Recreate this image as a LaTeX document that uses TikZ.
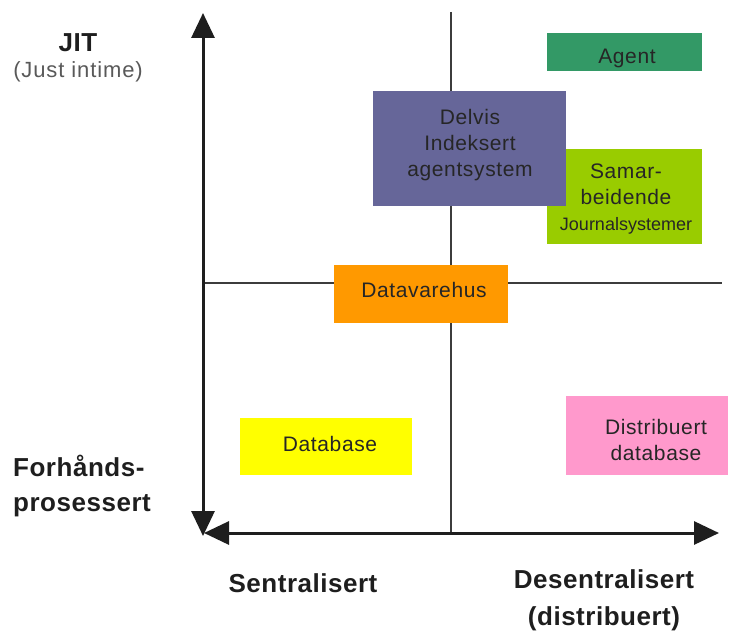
\documentclass[tikz,border=0pt]{standalone}
\usepackage{fontspec}
\setmainfont{Liberation Sans}
\usetikzlibrary{arrows.meta}

\definecolor{agentgreen}{HTML}{339966}
\definecolor{delvisblue}{HTML}{666699}
\definecolor{limegreen}{HTML}{99CC00}
\definecolor{dworange}{HTML}{FF9900}
\definecolor{dbyellow}{HTML}{FFFF00}
\definecolor{dbpink}{HTML}{FF99CC}
\definecolor{axisgray}{HTML}{1E1E1E}
\definecolor{gridgray}{HTML}{3C3C3C}
\definecolor{boxtext}{HTML}{262626}

\tikzset{
  box/.style={rectangle, draw=none, inner sep=0pt},
  boxlabel/.style={inner sep=0pt, align=center, text=boxtext,
    font=\addfontfeature{LetterSpace=3}\fontsize{21}{26}\selectfont},
  axislabel/.style={inner sep=0pt, text=axisgray, align=center,
    font=\bfseries\addfontfeature{LetterSpace=2}\fontsize{26}{37}\selectfont},
  axisline/.style={draw=axisgray, line width=3pt,
    {Triangle[length=25pt,width=23pt]}-{Triangle[length=25pt,width=23pt]}},
  gridline/.style={draw=gridgray, line width=2.5pt},
}

\begin{document}
\begin{tikzpicture}[x=1pt, y=-1pt]
\useasboundingbox (0,0) rectangle (730,634);

% axis and quadrant end points
\coordinate (ytop) at (203,13);
\coordinate (ybot) at (203,536);
\coordinate (xleft) at (204,533);
\coordinate (xright) at (719,533);
\coordinate (vtop) at (451,12);
\coordinate (vbot) at (451,533);
\coordinate (hleft) at (203,283);
\coordinate (hright) at (722,283);

% quadrant dividers
\draw[gridline] (vtop) -- (vbot);
\draw[gridline] (hleft) -- (hright);

% categories
\node[box, fill=agentgreen, minimum width=155pt, minimum height=38pt]
  (agent) at (624.5,52) {};
\node[boxlabel] (agenttxt) at (627,58) {Agent};

\node[box, fill=limegreen, minimum width=155pt, minimum height=95pt]
  (samar) at (624.5,196.5) {};
\node[boxlabel] (samartxt) at (626,199)
  {Samar-\\beidende\\{\addfontfeature{LetterSpace=0}\fontsize{18}{22}\selectfont Journalsystemer}};

\node[box, fill=delvisblue, minimum width=193pt, minimum height=115pt]
  (delvis) at (469.5,148.5) {};
\node[boxlabel] (delvistxt) at (470,145) {Delvis\\Indeksert\\agentsystem};

\node[box, fill=dworange, minimum width=174pt, minimum height=58pt]
  (dw) at (421,294) {};
\node[boxlabel] (dwtxt) at (424,290) {Datavarehus};

\node[box, fill=dbyellow, minimum width=172pt, minimum height=57pt]
  (db) at (326,446.5) {};
\node[boxlabel] (dbtxt) at (330,444) {Database};

\node[box, fill=dbpink, minimum width=162pt, minimum height=79pt]
  (ddb) at (647,435.5) {};
\node[boxlabel] (ddbtxt) at (656,440) {Distribuert\\database};

% axes
\draw[axisline] (ytop) -- (ybot);
\draw[axisline] (xleft) -- (xright);

% axis captions
\node[axislabel] (jit) at (78,43) {JIT};
\node[inner sep=0pt, text=black!65,
  font=\addfontfeature{LetterSpace=4}\fontsize{22}{24}\selectfont]
  (jitnote) at (78,72) {(Just intime)};
\node[axislabel, align=left, anchor=west,
  font=\bfseries\addfontfeature{LetterSpace=2}\fontsize{26}{35}\selectfont]
  (forh) at (13,486) {Forhånds-\\prosessert};
\node[axislabel] (sentral) at (303,583) {Sentralisert};
\node[axislabel] (desentral) at (604,600) {Desentralisert\\(distribuert)};
\end{tikzpicture}
\end{document}
